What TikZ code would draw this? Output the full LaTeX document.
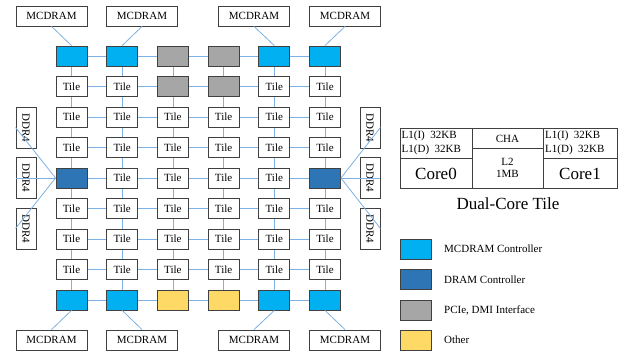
\documentclass[tikz,border=0pt]{standalone}
\usepackage{fontspec}
\setmainfont{Liberation Serif}
\usetikzlibrary{backgrounds}
\definecolor{linkc}{HTML}{7DB1E3}
\definecolor{edgec}{HTML}{404040}
\definecolor{mcc}{HTML}{00B0F0}
\definecolor{drc}{HTML}{2E75B6}
\definecolor{pcc}{HTML}{A6A6A6}
\definecolor{otc}{HTML}{FFD966}
\tikzset{
  cell/.style={draw=edgec, line width=0.9pt, minimum width=31pt, minimum height=20pt, inner sep=0pt, font=\fontsize{11}{12}\selectfont},
  tilebox/.style={cell, fill=white},
  mcbox/.style={cell, fill=mcc},
  drbox/.style={cell, fill=drc},
  pcbox/.style={cell, fill=pcc},
  otbox/.style={cell, fill=otc},
  membox/.style={draw=edgec, line width=0.9pt, fill=white, minimum width=71pt, minimum height=20pt, inner sep=0pt, font=\fontsize{11}{12}\selectfont},
  ddrbox/.style={draw=edgec, line width=0.9pt, fill=white, minimum width=41pt, minimum height=20pt, inner sep=0pt, rotate=-90, font=\fontsize{11}{12}\selectfont},
  link/.style={draw=linkc, line width=0.8pt},
  txt/.style={inner sep=0pt, font=\fontsize{11}{12}\selectfont},
  bigtxt/.style={inner sep=0pt, font=\fontsize{17}{19}\selectfont},
  ctbox/.style={draw=edgec, line width=0.9pt},
}
\begin{document}
\begin{tikzpicture}[x=1pt,y=-1pt]
\useasboundingbox (0,0) rectangle (619,353);
% grid
\foreach \j in {0,...,8}{
  \foreach \i in {0,...,5}{
    \pgfmathsetmacro{\xx}{71.5+50.7*\i}
    \pgfmathsetmacro{\yy}{56+30.5*\j}
    \def\kind{tilebox}
    \ifnum\j=0 \def\kind{mcbox}\fi
    \ifnum\j=8 \def\kind{mcbox}\fi
    \ifnum\j=0 \ifnum\i=2 \def\kind{pcbox}\fi \ifnum\i=3 \def\kind{pcbox}\fi\fi
    \ifnum\j=1 \ifnum\i=2 \def\kind{pcbox}\fi \ifnum\i=3 \def\kind{pcbox}\fi\fi
    \ifnum\j=8 \ifnum\i=2 \def\kind{otbox}\fi \ifnum\i=3 \def\kind{otbox}\fi\fi
    \ifnum\j=4 \ifnum\i=0 \def\kind{drbox}\fi \ifnum\i=5 \def\kind{drbox}\fi\fi
    \edef\lab{\ifx\kind\tilekind Tile\fi}
    \node[\kind] (t-\j-\i) at (\xx,\yy) {};
  }
}
% labels of plain tiles
\foreach \j/\i in {1/0,1/1,1/4,1/5}{\node[txt] at (t-\j-\i) {Tile};}
\foreach \j in {2,3,5,6,7}{\foreach \i in {0,...,5}{\node[txt] at (t-\j-\i) {Tile};}}
\foreach \i in {1,...,4}{\node[txt] at (t-4-\i) {Tile};}
% memory boxes
\node[membox] (mt1) at (51.5,16) {MCDRAM};
\node[membox] (mt2) at (142,16) {MCDRAM};
\node[membox] (mt3) at (254,16) {MCDRAM};
\node[membox] (mt4) at (345,16) {MCDRAM};
\node[membox] (mb1) at (51.5,340) {MCDRAM};
\node[membox] (mb2) at (142,340) {MCDRAM};
\node[membox] (mb3) at (254,340) {MCDRAM};
\node[membox] (mb4) at (345,340) {MCDRAM};
\node[ddrbox] (dl1) at (26,127.5) {DDR4};
\node[ddrbox] (dl2) at (26,178) {DDR4};
\node[ddrbox] (dl3) at (26,228.5) {DDR4};
\node[ddrbox] (dr1) at (370,127.5) {DDR4};
\node[ddrbox] (dr2) at (370,178) {DDR4};
\node[ddrbox] (dr3) at (370,228.5) {DDR4};
% connectors
\begin{scope}[on background layer]
\foreach \j in {0,...,8}{\foreach \i [count=\k from 1] in {0,...,4}{\draw[link] (t-\j-\i) -- (t-\j-\k);}}
\foreach \j [count=\k from 1] in {0,...,7}{\foreach \i in {0,...,5}{\draw[link] (t-\j-\i) -- (t-\k-\i);}}
\end{scope}
\draw[link] (t-0-0.north) -- (mt1.south);
\draw[link] (t-0-1.north) -- (mt2.south);
\draw[link] (t-0-4.north) -- (mt3.south);
\draw[link] (t-0-5.north) -- (mt4.south);
\draw[link] (t-8-0.south) -- (mb1.north);
\draw[link] (t-8-1.south) -- (mb2.north);
\draw[link] (t-8-4.south) -- (mb3.north);
\draw[link] (t-8-5.south) -- (mb4.north);
\draw[link] (t-4-0.west) -- (dl1.south);
\draw[link] (t-4-0.west) -- (dl2.south);
\draw[link] (t-4-0.west) -- (dl3.south);
\draw[link] (t-4-5.east) -- (dr1.north);
\draw[link] (t-4-5.east) -- (dr2.north);
\draw[link] (t-4-5.east) -- (dr3.north);
% dual-core tile
\draw[ctbox] (400,128) rectangle (617,188);
\draw[ctbox] (472,128) -- (472,188);
\draw[ctbox] (543,128) -- (543,188);
\draw[ctbox] (400,158) -- (472,158);
\draw[ctbox] (543,158) -- (617,158);
\draw[ctbox] (472,148) -- (543,148);
\node[txt, anchor=west] (l1il) at (401.5,135.5) {L1(I)\ \ 32KB};
\node[txt, anchor=west] (l1dl) at (401.5,149.5) {L1(D)\ \ 32KB};
\node[txt, anchor=west] (l1ir) at (545,135.5) {L1(I)\ \ 32KB};
\node[txt, anchor=west] (l1dr) at (545,149.5) {L1(D)\ \ 32KB};
\node[bigtxt] (c0) at (436,173.5) {Core0};
\node[bigtxt] (c1) at (580,173.5) {Core1};
\node[txt] (cha) at (507.5,138.5) {CHA};
\node[txt] (l2) at (507.5,162) {L2};
\node[txt] (mb) at (507.5,174) {1MB};
\node[bigtxt] (dct) at (508,204) {Dual-Core Tile};
% legend
\node[mcbox] (lg1) at (415.5,249) {};
\node[drbox] (lg2) at (415.5,279.5) {};
\node[pcbox] (lg3) at (415.5,310) {};
\node[otbox] (lg4) at (415.5,340) {};
\node[txt, anchor=west] (lt1) at (444,249) {MCDRAM Controller};
\node[txt, anchor=west] (lt2) at (444,279.5) {DRAM Controller};
\node[txt, anchor=west] (lt3) at (444,310) {PCIe, DMI Interface};
\node[txt, anchor=west] (lt4) at (444,340) {Other};
\end{tikzpicture}
\end{document}
